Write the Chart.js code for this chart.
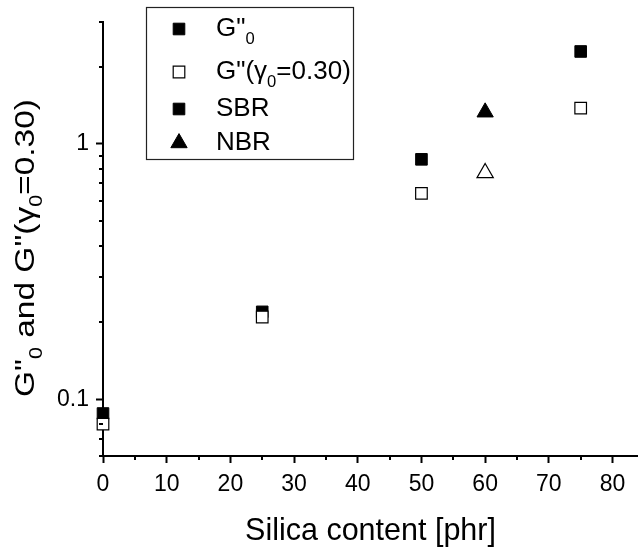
<!DOCTYPE html>
<html><head><meta charset="utf-8">
<script src="https://cdn.jsdelivr.net/npm/chart.js@4/dist/chart.umd.min.js"></script>
<style>html,body{margin:0;padding:0;background:#fff;}#wrap{width:638px;height:551px;}</style>
</head><body><div id="wrap"><canvas id="c" width="638" height="551"></canvas></div>
<script>
const FONT = '"Liberation Sans", Arial, Helvetica, sans-serif';
// data
const sbrSilica = [0, 25, 50, 75];
const sbrG0 = [0.088, 0.22, 0.87, 2.30];
const sbrG030 = [0.080, 0.21, 0.64, 1.38];
const nbrSilica = [60];
const nbrG0 = [1.33];
const nbrG030 = [0.77];
// ticks
const xTickValues = [0, 10, 20, 30, 40, 50, 60, 70, 80];
const xMinorTicks = [5, 15, 25, 35, 45, 55, 65, 75];
const yTickValues = [0.1, 1];
const yMinorTicks = [0.06, 0.07, 0.08, 0.09, 0.2, 0.3, 0.4, 0.5, 0.6, 0.7, 0.8, 0.9, 2, 3];
// texts
const xTitle = 'Silica content [phr]';
const yTitle = 'G"_{0} and G"(γ_{0}=0.30)';
const legendLabels = ['G"_{0}', 'G"(γ_{0}=0.30)', 'SBR', 'NBR'];

const toPts = (xs, ys) => xs.map((x, i) => ({x: x, y: ys[i]}));

const filledSq = {pointStyle: 'rect', pointRadius: 8.2, backgroundColor: '#000', borderColor: '#000', borderWidth: 1};
const openSq = {pointStyle: 'rect', pointRadius: 8.2, backgroundColor: '#fff', borderColor: '#000', borderWidth: 1.2};
const filledTri = {pointStyle: 'triangle', pointRadius: 9.4, backgroundColor: '#000', borderColor: '#000', borderWidth: 1};
const openTri = {pointStyle: 'triangle', pointRadius: 9.4, backgroundColor: '#fff', borderColor: '#000', borderWidth: 1.2};
const legendStyles = [filledSq, openSq, filledSq, filledTri];

function parseRich(s) {
  const parts = []; const re = /_\{([^}]*)\}/g; let last = 0, m;
  while ((m = re.exec(s))) {
    if (m.index > last) parts.push({t: s.slice(last, m.index), sub: false});
    parts.push({t: m[1], sub: true}); last = re.lastIndex;
  }
  if (last < s.length) parts.push({t: s.slice(last), sub: false});
  return parts;
}
const SUBS = 0.64, SUBOFF = 0.3;
function richWidth(ctx, parts, size) {
  let w = 0;
  for (const p of parts) { ctx.font = (p.sub ? size * SUBS : size) + 'px ' + FONT; w += ctx.measureText(p.t).width; }
  return w;
}
function drawRich(ctx, parts, x, y, size) {
  for (const p of parts) {
    const fs = p.sub ? size * SUBS : size;
    ctx.font = fs + 'px ' + FONT;
    ctx.fillText(p.t, x, y + (p.sub ? size * SUBOFF : 0));
    x += ctx.measureText(p.t).width;
  }
}
function marker(ctx, st, x, y) {
  ctx.save();
  ctx.fillStyle = st.backgroundColor; ctx.strokeStyle = st.borderColor; ctx.lineWidth = st.borderWidth;
  Chart.helpers.drawPoint(ctx, {pointStyle: st.pointStyle, radius: st.pointRadius, borderWidth: st.borderWidth, rotation: 0}, x, y);
  ctx.restore();
}

const extras = {
  id: 'extras',
  afterDraw(chart) {
    const ctx = chart.ctx; const xs = chart.scales.x, ys = chart.scales.y;
    ctx.save();
    ctx.strokeStyle = '#000'; ctx.lineWidth = 2;
    ctx.beginPath();
    for (const v of xMinorTicks) { const px = Math.round(xs.getPixelForValue(v)); ctx.moveTo(px, xs.top); ctx.lineTo(px, xs.top + 4); }
    for (const v of yMinorTicks) { const py = Math.round(ys.getPixelForValue(v)); ctx.moveTo(ys.right, py); ctx.lineTo(ys.right - 4, py); }
    ctx.stroke();
    // y title
    ctx.fillStyle = '#000'; ctx.textBaseline = 'alphabetic'; ctx.textAlign = 'left';
    const yp = parseRich(yTitle); const ysz = 28;
    const w = richWidth(ctx, yp, ysz);
    const stretch = 298 / w;
    ctx.save(); ctx.translate(34, 248); ctx.rotate(-Math.PI / 2); ctx.scale(stretch, 1);
    drawRich(ctx, yp, -w / 2, 0, ysz);
    ctx.restore();
    // legend
    ctx.lineWidth = 1.2; ctx.strokeStyle = '#222';
    ctx.strokeRect(146.5, 7.5, 207, 152);
    const rowsY = [36, 79, 116, 150];
    legendLabels.forEach((lab, i) => {
      marker(ctx, legendStyles[i], 179, rowsY[i] - 7);
      ctx.fillStyle = '#000';
      drawRich(ctx, parseRich(lab), 216, rowsY[i], 26);
    });
    ctx.restore();
  }
};

new Chart(document.getElementById('c'), {
  type: 'scatter',
  data: {
    datasets: [
      Object.assign({label: 'SBR G"0', data: toPts(sbrSilica, sbrG0), order: 1, clip: false}, filledSq),
      Object.assign({label: 'SBR G"(0.30)', data: toPts(sbrSilica, sbrG030), order: 0, clip: false}, openSq),
      Object.assign({label: 'NBR G"0', data: toPts(nbrSilica, nbrG0), order: 1, clip: false}, filledTri),
      Object.assign({label: 'NBR G"(0.30)', data: toPts(nbrSilica, nbrG030), order: 0, clip: false}, openTri)
    ]
  },
  options: {
    responsive: false, animation: false, devicePixelRatio: 1,
    layout: {autoPadding: false, padding: {top: 22, right: 0, left: 0, bottom: 0}},
    plugins: {legend: {display: false}, tooltip: {enabled: false}},
    scales: {
      x: {
        type: 'linear', position: 'bottom', min: 0, max: 84,
        afterBuildTicks: (s) => { s.ticks = xTickValues.map(v => ({value: v})); },
        afterFit: (s) => { s.height = 95; s.paddingLeft = 0; s.paddingRight = 0; },
        grid: {display: true, drawOnChartArea: false, drawTicks: true, tickLength: 7, tickColor: '#000', tickWidth: 2, color: '#000'},
        border: {display: true, color: '#000', width: 2},
        ticks: {autoSkip: false, maxRotation: 0, color: '#000', padding: 8, font: {family: FONT, size: 23}},
        title: {display: true, text: xTitle, color: '#000', font: {family: FONT, size: 30.5}, padding: {top: 0, bottom: 1}}
      },
      y: {
        type: 'logarithmic', position: 'left', min: 0.06, max: 3,
        afterBuildTicks: (s) => { s.ticks = yTickValues.map(v => ({value: v})); },
        afterFit: (s) => { s.width = 103; s.paddingTop = 0; s.paddingBottom = 0; },
        grid: {display: true, drawOnChartArea: false, drawTicks: true, tickLength: 7, tickColor: '#000', tickWidth: 2, color: '#000'},
        border: {display: true, color: '#000', width: 2},
        ticks: {autoSkip: false, color: '#000', padding: 7, font: {family: FONT, size: 23}, callback: (v) => String(v)}
      }
    }
  },
  plugins: [extras]
});
</script></body></html>
